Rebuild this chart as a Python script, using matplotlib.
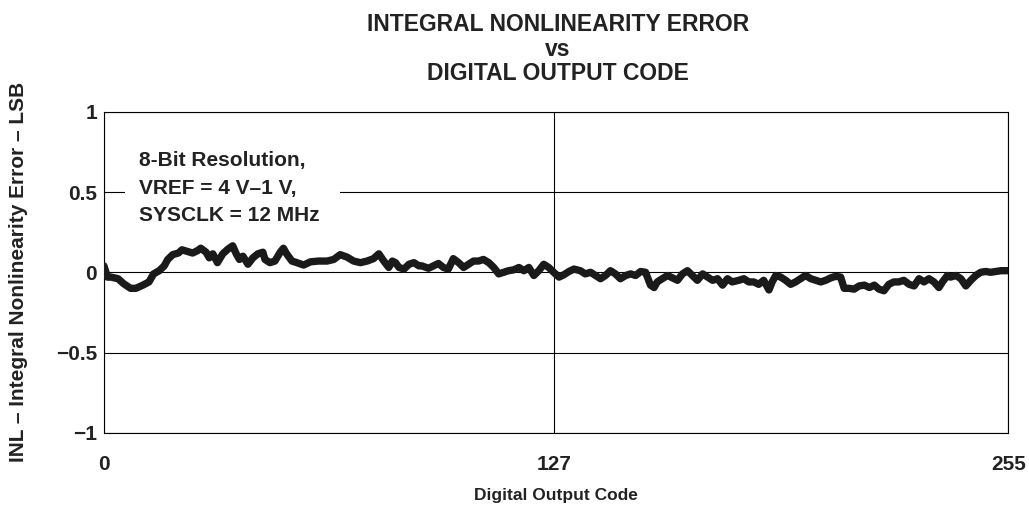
import matplotlib
matplotlib.use("Agg")
import matplotlib.pyplot as plt
from matplotlib.patches import Rectangle

codes = [0, 1, 2, 4, 5.5, 7.5, 9, 11, 12.7, 14, 15.6, 17, 18, 19.4, 21, 22, 23.5, 25, 26.4, 27.3,
         28.8, 29.7, 30.7, 32, 33.5, 35, 36.3, 37.3, 38.2, 39.2, 40.6, 42, 43.4, 44.8,
         45.4, 46.8, 48.2, 49.7, 50.6, 51.5, 53, 54.4, 56.3, 58.2, 60.5, 62.9, 64.8, 66.6,
         68.5, 70.4, 72.3, 74.2, 76, 77.5, 78.9, 80.3, 81.3, 82.2, 83.2, 84.6, 86, 87.4,
         88.8, 89.6, 91.5, 92.9, 94.3, 95.7, 97.1, 98.5, 100, 101.4, 102.8, 104.2, 105.6,
         107, 108.5, 109.9, 111.3, 112.7, 114.1, 115.5, 117, 118.4, 119.8, 121.2, 122.6,
         124, 125.4, 126.8, 128.3, 129.7, 131.1, 132.5, 134.3, 135.7, 137.2, 138.6, 140,
         141.4, 142.8, 144.2, 145.6, 147.1, 148.5, 149.9, 151.3, 152.7, 154.1, 155.1, 156,
         157.4, 158.9, 160.3, 161.7, 163.1, 164.5, 165.9, 167.3, 168.8, 170.2, 171.6, 173,
         174.4, 175.8, 177.1, 179, 180.4, 181.8, 183.2, 184.6, 186, 187.5, 188.4, 189.4,
         190.8, 192.2, 193.6, 195, 196.4, 197.8, 199.3, 200.7, 202.1, 203.5, 204.9, 206.3,
         207.7, 208.7, 210.1, 211.5, 212.9, 214.4, 215.8, 217.2, 218.5, 219.9, 221.3,
         222.7, 224.1, 225.5, 227, 228.4, 229.8, 231.2, 232.6, 234, 235.4, 236.4, 237.8,
         238.7, 240.2, 241.6, 243, 244.4, 245.8, 247.2, 248.6, 250, 251.5, 252.9, 255]
inl = [0.04, -0.03, -0.03, -0.04, -0.07, -0.10, -0.10, -0.08, -0.06, -0.01, 0.01, 0.04, 0.08,
       0.11, 0.12, 0.14, 0.13, 0.12, 0.135, 0.15, 0.125, 0.09, 0.115, 0.06, 0.115, 0.145,
       0.165, 0.115, 0.08, 0.10, 0.05, 0.09, 0.115, 0.125,
       0.08, 0.06, 0.07, 0.125, 0.15, 0.115, 0.07, 0.06, 0.045, 0.065, 0.07, 0.07, 0.08, 0.11,
       0.095, 0.07, 0.06, 0.07, 0.085, 0.115, 0.07, 0.03, 0.07, 0.06, 0.03, 0.02, 0.05, 0.06,
       0.04, 0.04, 0.025, 0.04, 0.055, 0.03, 0.02, 0.085, 0.06, 0.03, 0.05, 0.07, 0.07,
       0.08, 0.06, 0.03, -0.01, 0.0, 0.01, 0.015, 0.03, 0.01, 0.03, -0.02, 0.01,
       0.05, 0.03, 0.0, -0.03, -0.015, 0.005, 0.02, 0.01, -0.01, 0.0, -0.02, -0.04,
       -0.02, 0.01, -0.01, -0.04, -0.02, -0.01, -0.02, 0.005, 0.0, -0.08, -0.095, -0.06,
       -0.04, -0.02, -0.035, -0.05, -0.01, 0.01, -0.02, -0.05, -0.01, -0.03, -0.05, -0.04,
       -0.08, -0.04, -0.06, -0.05, -0.04, -0.06, -0.06, -0.075, -0.05, -0.11, -0.06, -0.02,
       -0.03, -0.05, -0.075, -0.06, -0.04, -0.02, -0.04, -0.05, -0.06, -0.05, -0.035, -0.025,
       -0.03, -0.10, -0.10, -0.105, -0.085, -0.08, -0.095, -0.08, -0.105, -0.115, -0.075,
       -0.06, -0.06, -0.05, -0.075, -0.085, -0.04, -0.06, -0.04, -0.06, -0.095, -0.06, -0.02,
       -0.03, -0.02, -0.04, -0.085, -0.05, -0.02, 0.0, 0.005, 0.0, 0.005, 0.01, 0.01]

xticks = [0, 127, 255]
xticklabels = ["0", "127", "255"]
yticks = [-1, -0.5, 0, 0.5, 1]
yticklabels = ["\u22121", "\u22120.5", "0", "0.5", "1"]
title_lines = ["INTEGRAL NONLINEARITY ERROR", "vs", "DIGITAL OUTPUT CODE"]
note_lines = ["8-Bit Resolution,", "VREF = 4 V\u20131 V,", "SYSCLK = 12 MHz"]

plt.rcParams['font.family'] = ['Liberation Sans', 'DejaVu Sans']
plt.rcParams['font.weight'] = 'bold'
TXT = '#222222'

fig = plt.figure(figsize=(10.29, 5.08), dpi=100)
ax = fig.add_axes([0.101, 0.148, 0.879, 0.632])

ax.plot(codes, inl, color='#1a1a1a', linewidth=5.3, solid_joinstyle='round',
        solid_capstyle='round', zorder=3)

ax.set_xlim(0, 255)
ax.set_ylim(-1, 1)
ax.set_xticks(xticks)
ax.set_xticklabels(xticklabels, fontsize=15, fontweight='bold', color=TXT)
ax.set_yticks(yticks)
ax.set_yticklabels(yticklabels, fontsize=15, fontweight='bold', color=TXT)
ax.tick_params(length=0)
ax.tick_params(axis='y', pad=5)
ax.tick_params(axis='x', pad=16)
ax.grid(True, color='black', linewidth=0.8)
for s in ax.spines.values():
    s.set_linewidth(0.8)
    s.set_color('black')

ax.set_xlabel("Digital Output Code", fontsize=12.5, fontweight='bold', color=TXT, labelpad=10)
ax.set_ylabel("INL \u2013 Integral Nonlinearity Error \u2013 LSB", fontsize=15, fontweight='bold',
              color=TXT, labelpad=20)

title_y = [0.939, 0.890, 0.843]
for line, yy in zip(title_lines, title_y):
    fig.text(0.542, yy, line, ha='center', va='baseline', fontsize=16.5, fontweight='bold', color=TXT)

ax.add_patch(Rectangle((0.023, 0.63), 0.238, 0.25, transform=ax.transAxes,
                       facecolor='white', edgecolor='none', zorder=4))
note_y = [0.830, 0.745, 0.660]
for line, yy in zip(note_lines, note_y):
    ax.text(0.0387, yy, line, transform=ax.transAxes, ha='left', va='baseline',
            fontsize=15, fontweight='bold', color=TXT, zorder=5)

fig.savefig("out.png", dpi=100)
